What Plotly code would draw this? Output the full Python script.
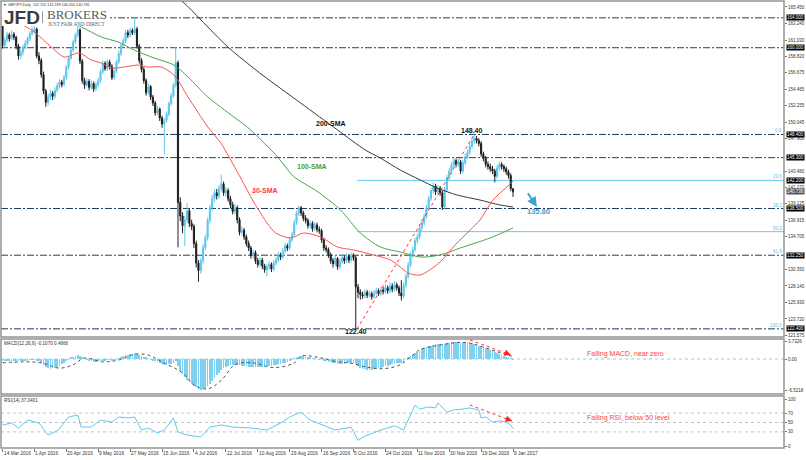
import plotly.graph_objects as go

# ---------------- data ----------------
first_open = 162.9
close = [160.3, 161.0, 161.7, 161.2, 161.8, 161.4, 160.2, 158.9, 159.4, 160.1,
         160.6, 161.2, 161.9, 162.3, 162.5, 158.9, 158.3, 156.4, 154.2, 152.7,
         153.4, 153.9, 153.5, 154.3, 154.9, 155.4, 155.1, 156.0, 157.4, 158.6,
         159.7, 160.8, 161.7, 162.4, 158.2, 155.6, 155.0, 155.5, 154.7, 155.2,
         154.5, 155.0, 155.6, 156.8, 157.9, 157.2, 158.1, 157.5, 156.0, 156.9,
         158.1, 159.2, 160.3, 160.9, 162.0, 161.7, 162.3, 162.0, 162.5, 160.2,
         158.3, 157.1, 155.6, 154.0, 154.8, 153.4, 152.6, 151.3, 151.8, 150.6,
         149.8, 150.3, 151.1, 152.5, 153.6, 155.0, 158.0, 139.3, 137.5, 136.2,
         137.0, 138.2, 136.5, 136.1, 133.8, 131.2, 130.2, 131.5, 133.3, 134.6,
         136.9, 138.6, 139.8, 140.6, 140.2, 141.2, 141.8, 140.6, 140.9, 139.8,
         139.0, 138.1, 138.6, 137.0, 135.3, 135.6, 134.7, 133.8, 133.2, 132.2,
         132.6, 131.5, 131.0, 131.6, 130.8, 130.3, 130.7, 131.0, 130.4, 131.2,
         131.6, 132.3, 132.0, 132.8, 133.5, 133.2, 134.3, 135.0, 136.6, 137.8,
         138.6, 137.9, 137.2, 136.9, 136.2, 136.5, 135.8, 136.3, 135.7, 135.5,
         134.3, 133.2, 133.0, 132.3, 131.5, 131.1, 131.8, 130.7, 131.4, 131.9,
         131.5, 132.1, 131.6, 132.2, 131.9, 128.0, 127.3, 127.0, 126.8, 127.3,
         126.9, 127.1, 126.7, 127.2, 127.5, 127.1, 127.6, 127.4, 127.9, 127.5,
         128.1, 127.7, 128.3, 127.9, 127.2, 126.8, 128.2, 129.4, 130.9, 132.3,
         133.0, 134.2, 134.7, 135.9, 136.6, 137.4, 138.6, 139.8, 140.9, 141.5,
         140.7, 141.2, 140.6, 138.7, 141.0, 142.6, 143.5, 144.3, 144.9, 144.4,
         144.7, 143.5, 144.6, 145.4, 146.0, 146.8, 147.5, 147.9, 147.6, 147.2,
         145.8, 145.2, 144.4, 144.1, 143.8, 143.5, 142.8, 143.9, 144.4, 144.1,
         143.8, 143.4, 142.9, 141.155, 140.736]
high = [163.2, 161.4, 162.1, 162.0, 162.3, 162.1, 161.6, 160.5, 159.8, 160.4,
        161.0, 161.5, 162.2, 162.8, 163.0, 162.7, 159.4, 158.6, 156.8, 154.5,
        153.8, 154.4, 154.2, 154.7, 155.3, 155.8, 155.7, 156.4, 157.7, 158.9,
        160.0, 161.1, 162.0, 162.9, 162.6, 158.5, 156.0, 155.9, 155.8, 155.6,
        155.5, 155.4, 156.0, 157.1, 158.3, 158.2, 158.5, 158.4, 157.8, 157.3,
        158.4, 159.6, 160.6, 161.3, 162.4, 162.4, 162.7, 162.6, 164.0, 162.8,
        160.5, 158.6, 157.4, 155.9, 155.2, 155.0, 153.7, 152.9, 152.2, 152.0,
        150.9, 150.6, 151.5, 152.8, 153.9, 155.3, 160.1, 158.3, 140.0, 138.0,
        137.5, 139.2, 138.5, 137.0, 136.4, 134.2, 131.6, 131.9, 133.7, 135.0,
        137.3, 139.0, 140.3, 141.0, 141.1, 141.6, 143.0, 142.1, 141.4, 141.2,
        140.2, 139.4, 139.1, 138.9, 137.3, 136.1, 135.9, 135.0, 134.2, 133.5,
        133.0, 132.9, 131.9, 132.0, 131.9, 131.1, 131.1, 131.4, 131.3, 131.6,
        132.0, 132.7, 132.6, 133.2, 133.9, 133.8, 134.7, 135.4, 137.0, 138.2,
        138.9, 138.8, 138.2, 137.6, 137.2, 136.9, 136.8, 136.7, 136.6, 136.1,
        135.8, 134.6, 133.6, 133.3, 132.6, 131.9, 132.2, 132.0, 131.8, 132.4,
        132.2, 132.5, 132.4, 132.6, 132.5, 132.2, 128.4, 127.7, 127.4, 127.7,
        127.6, 127.5, 127.4, 127.6, 127.9, 127.8, 128.0, 128.0, 128.4, 128.2,
        128.6, 128.5, 128.8, 128.6, 128.2, 128.9, 128.6, 129.8, 131.3, 132.7,
        133.4, 134.6, 135.1, 136.3, 137.0, 137.8, 139.0, 140.2, 141.3, 142.0,
        141.8, 141.6, 141.5, 140.9, 141.4, 143.0, 143.9, 144.7, 145.3, 145.2,
        145.1, 145.0, 145.0, 145.8, 146.4, 147.2, 147.9, 148.4, 148.2, 147.9,
        147.5, 146.1, 145.5, 144.8, 144.5, 144.2, 143.8, 144.3, 144.8, 144.7,
        144.4, 144.1, 143.7, 143.2, 141.189]
low = [159.9, 160.0, 160.7, 160.8, 161.0, 161.0, 159.8, 158.4, 158.5, 159.0,
       159.8, 160.3, 160.9, 161.6, 161.9, 158.6, 157.8, 156.0, 153.8, 152.1,
       152.3, 153.0, 153.0, 153.2, 154.0, 154.5, 154.7, 154.8, 155.7, 157.1,
       158.3, 159.4, 160.5, 161.4, 157.8, 155.2, 154.5, 154.7, 154.3, 154.4,
       154.1, 154.2, 154.7, 155.3, 156.5, 156.9, 156.9, 157.1, 155.7, 155.7,
       156.6, 157.8, 158.9, 160.0, 160.6, 161.3, 161.4, 161.7, 161.7, 159.9,
       157.9, 156.7, 155.2, 153.6, 153.7, 153.0, 152.2, 150.9, 151.0, 150.2,
       149.3, 145.7, 150.0, 150.8, 152.2, 153.3, 154.7, 133.3, 136.8, 135.2,
       133.5, 136.6, 136.0, 135.6, 133.2, 130.6, 128.7, 129.8, 131.1, 132.9,
       134.2, 136.5, 138.2, 139.3, 139.7, 139.8, 140.8, 140.2, 140.1, 139.4,
       138.5, 137.7, 137.7, 136.5, 134.9, 134.9, 134.3, 133.4, 132.8, 131.8,
       131.8, 131.1, 130.6, 130.7, 130.4, 129.9, 129.4, 130.3, 130.0, 130.1,
       130.9, 131.3, 131.6, 131.7, 132.5, 132.8, 132.9, 134.0, 134.7, 136.3,
       137.5, 137.5, 136.8, 136.5, 135.8, 135.9, 135.4, 135.5, 135.3, 135.1,
       133.9, 132.8, 132.6, 131.9, 131.1, 130.6, 130.8, 130.3, 130.4, 131.1,
       131.1, 131.2, 131.2, 131.3, 131.5, 122.4, 126.5, 126.3, 126.4, 126.5,
       126.5, 126.6, 126.3, 126.4, 126.9, 126.8, 126.8, 127.0, 127.1, 127.1,
       127.2, 127.3, 127.4, 127.5, 126.8, 126.2, 126.5, 127.9, 129.1, 130.6,
       131.9, 132.7, 133.8, 134.4, 135.5, 136.2, 137.1, 138.3, 139.5, 140.5,
       140.3, 140.4, 140.2, 138.3, 138.4, 140.7, 142.3, 143.1, 143.9, 144.0,
       144.1, 143.1, 143.2, 144.3, 145.1, 145.7, 146.5, 147.1, 147.2, 146.8,
       145.4, 144.8, 144.0, 143.7, 143.4, 143.1, 142.0, 142.5, 143.6, 143.7,
       143.4, 143.0, 142.5, 140.8, 140.05]
open_ = [first_open] + close[:-1]
bars = list(range(len(close)))

date_labels = ["14 Mar 2016", "1 Apr 2016", "20 Apr 2016", "9 May 2016", "27 May 2016",
               "15 Jun 2016", "4 Jul 2016", "22 Jul 2016", "10 Aug 2016", "29 Aug 2016",
               "16 Sep 2016", "5 Oct 2016", "24 Oct 2016", "11 Nov 2016", "30 Nov 2016",
               "19 Dec 2016", "9 Jan 2017"]
date_bars = [0, 14, 28, 42, 56, 70, 84, 98, 112, 126, 140, 154, 168, 182, 196, 210, 224]

# regular scale labels (those hidden under the boxed levels are left out)
price_ticks = [165.450, 163.240, 161.030, 158.820, 156.675, 154.465, 152.255, 150.045,
               147.900, 143.480, 141.270, 139.125, 136.915, 134.705,
               130.350, 128.140, 125.930, 123.720, 121.575]
boxed_levels = [164.000, 160.000, 148.400, 145.300, 142.200, 138.500, 132.250, 122.400]
last_price = 140.736

sr_gray = [164.0, 160.0, 145.3, 132.25]
sr_navy = [148.4, 138.5, 122.4]
fib_levels = [148.40, 142.26, 138.47, 135.40, 132.33, 122.40]
fib_names = ["0.0", "23.6", "38.2", "50.0", "61.8", "100.0"]
fib_solid = [False, True, False, True, False, False]
fib_low_bar, fib_low_price = 155.6, 122.4
fib_high_bar, fib_high_price = 207.0, 148.4

sma30_bar = [3, 10.5, 14, 21.4, 27.1, 33.7, 38.9, 43.3, 47.7, 53.4, 59.5, 63.9, 69.6, 75.2,
             81.4, 90.1, 95.8, 98.9, 104.5, 110.2, 116.4, 119.9, 126.4, 132.1, 139.5, 147.0,
             154.0, 162.7, 170.2, 174.5, 178.0, 183.3, 192.0, 198.6, 205.2, 209.5, 215.2,
             221.3, 224.0]
sma30 = [164.0, 162.77, 162.11, 160.10, 158.76, 159.30, 158.36, 157.96, 157.29, 157.42,
         157.69, 157.42, 157.42, 156.35, 153.41, 149.40, 147.26, 145.65, 142.58, 139.37,
         136.42, 135.22, 134.55, 135.22, 134.69, 133.35, 132.95, 132.29, 131.61, 130.67,
         129.87, 129.60, 131.34, 133.62, 135.62, 136.96, 139.63, 141.37, 142.17]
sma100_bar = [20, 34.6, 43.3, 50.7, 57.7, 66.5, 75.2, 81.4, 90.1, 101.5, 108.9, 120.7,
              127.7, 138.0, 148.3, 157.0, 165.8, 174.5, 183.3, 192.0, 200.8, 213.9, 224.0]
sma100 = [164.6, 162.77, 161.44, 160.77, 159.70, 158.63, 157.69, 156.09, 153.41, 150.74,
          149.00, 145.39, 142.8, 140.8, 138.3, 135.22, 133.35, 132.68, 132.01, 132.28,
          133.21, 134.55, 135.89]
sma200_bar = [70, 79.2, 87.1, 98.9, 112.9, 130.8, 147.0, 159.2, 165.8, 174.5, 183.3, 190.7,
              199.5, 209.5, 218.3, 224.0]
sma200 = [168.0, 166.12, 163.71, 160.10, 156.62, 152.61, 149.00, 146.32, 145.25, 143.65,
          142.31, 141.24, 140.30, 139.63, 138.97, 138.70]

macd_hist = [-0.4, -0.3, -0.3, -0.4, -0.3, -0.4, -0.5, -0.5, -0.4, -0.4, -0.3, -0.3, -0.2,
             -0.1, -0.1, -0.3, -0.5,
             -0.8, -1.2, -1.6, -1.9, -2.0, -1.9, -1.8, -1.6, -1.4, -1.1, -0.8, -0.4,
             0.0, 0.3, 0.5, 0.7, 0.8, 0.6, 0.3,
             0.0, -0.2, -0.4, -0.5, -0.6, -0.6, -0.5, -0.4, -0.3, -0.3, -0.2, -0.2, -0.3,
             -0.2, 0.0, 0.2, 0.4, 0.6, 0.8, 0.9, 1.0, 1.1, 1.2, 1.1, 0.9, 0.7, 0.5, 0.3, 0.1,
             -0.1, -0.3, -0.5, -0.7, -0.9, -1.1, -1.2, -1.2, -1.1, -1.0, -0.8, -0.5,
             -1.5, -2.4, -3.2, -3.8, -4.3, -4.7, -5.1, -5.5, -5.9, -6.2, -6.4, -6.3, -6.0,
             -5.6, -5.1, -4.5, -3.9, -3.3, -2.8, -2.3, -1.9, -1.6,
             -1.4, -1.3, -1.3, -1.2, -1.2, -1.3, -1.4, -1.5, -1.5, -1.6, -1.6, -1.6, -1.6,
             -1.7, -1.6, -1.6, -1.6, -1.5, -1.5, -1.4, -1.3, -1.2, -1.1, -1.0, -0.9, -0.8,
             -0.6, -0.4, -0.2,
             0.1, 0.3, 0.5, 0.6, 0.6, 0.5, 0.4, 0.3, 0.2, 0.1, 0.0, -0.1, -0.2,
             -0.4, -0.5, -0.6, -0.7, -0.8, -0.9, -1.0, -1.0, -1.0, -1.0, -0.9, -0.9, -0.9,
             -0.8, -1.1,
             -1.5, -1.8, -2.0, -2.1, -2.2, -2.2, -2.2, -2.1, -2.0, -1.9, -1.8, -1.7, -1.5,
             -1.4, -1.3, -1.1, -1.0, -0.9, -0.8, -0.8, -0.6,
             0.0, 0.3, 0.6, 0.9, 1.2, 1.5, 1.7, 2.0, 2.2, 2.4, 2.6, 2.8, 3.0, 3.1, 3.2, 3.2,
             3.1, 3.2, 3.3, 3.4, 3.5, 3.5, 3.5, 3.5, 3.4, 3.5, 3.5, 3.5, 3.4, 3.3, 3.2, 3.0,
             2.8, 2.6, 2.4, 2.2, 2.0, 1.8, 1.6, 1.4, 1.3, 1.1, 0.9, 0.7, 0.5, 0.3, 0.1, -0.1]
signal_bar = [0, 9, 17, 25, 31, 36, 44, 51, 58, 64, 70, 79, 84, 90, 96, 102, 110, 119, 128,
              131, 138, 146, 153, 160, 167, 174, 180, 183, 192, 201, 205, 217, 224]
signal = [-0.8, -0.6, -0.8, -1.9, -1.2, 0.2, -0.6, -0.2, 1.0, 0.8, -0.6, -2.9, -5.4, -6.2,
          -4.4, -1.2, -0.8, -1.8, -0.8, 0.6, 0.4, -0.5, -0.9, -1.7, -2.0, -1.3, 0.8, 1.9,
          2.9, 3.46, 3.3, 1.5, 0.47]
macd_ticks = [3.7326, 0.0, -6.5218]
macd_tick_text = ["3.7326", "0.00", "-6.5218"]

rsi_bar = [0, 4, 7, 11, 16, 20, 24.5, 29, 33, 34.5, 39, 43, 48, 51, 55, 58, 61, 64, 68, 71,
           75, 77, 81, 87, 91, 96, 101, 109, 116, 122, 126, 131, 135, 140, 146, 153, 156,
           159, 166, 172, 176, 179, 181, 183, 187, 190, 191, 195, 198, 202, 205, 209, 210,
           212, 215, 218, 221, 223, 224]
rsi = [44.7, 48.9, 38.3, 55.3, 48.9, 23.4, 34.0, 61.7, 66.0, 40.4, 40.4, 55.3, 51.0, 61.7,
       59.6, 61.7, 34.0, 38.3, 27.7, 34.0, 59.6, 29.8, 23.4, 19.1, 40.4, 44.7, 40.4, 38.3,
       34.0, 48.9, 61.7, 72.3, 55.0, 45.0, 34.0, 40.0, 12.0, 21.0, 34.0, 43.0, 34.0, 66.0,
       87.0, 78.7, 83.0, 80.9, 91.5, 72.3, 76.6, 78.7, 80.9, 76.6, 59.6, 61.7, 51.0, 53.2,
       51.0, 44.7, 37.04]
rsi_levels = [70, 50, 30]
rsi_ticks = [100, 70, 50, 30, 0]

# ---------------- geometry helpers (paper fractions) ----------------
W, H = 806, 460
def px(x):
    return x / W
def py(y):
    return 1 - y / H

XD = [px(1), px(784)]
XR = [-0.658, 342.9]
D_PRICE = [py(337), py(1)]
D_MACD = [py(394), py(339)]
D_RSI = [py(448), py(396)]

BLUE = "#5bc6ec"
FONT = "Liberation Sans"

fig = go.Figure()

# ---------------- traces ----------------
fig.add_trace(go.Candlestick(
    x=bars, open=open_, high=high, low=low, close=close,
    increasing=dict(line=dict(color=BLUE, width=1), fillcolor=BLUE),
    decreasing=dict(line=dict(color="#1e1e1e", width=1), fillcolor="#1e1e1e"),
    whiskerwidth=0, xaxis="x", yaxis="y", hoverinfo="skip"))
fig.add_trace(go.Scatter(x=sma200_bar, y=sma200, mode="lines",
                         line=dict(color="#3a3a3a", width=1, shape="spline", smoothing=0.8),
                         xaxis="x", yaxis="y", hoverinfo="skip"))
fig.add_trace(go.Scatter(x=sma100_bar, y=sma100, mode="lines",
                         line=dict(color="#4aa64a", width=1, shape="spline", smoothing=0.8),
                         xaxis="x", yaxis="y", hoverinfo="skip"))
fig.add_trace(go.Scatter(x=sma30_bar, y=sma30, mode="lines",
                         line=dict(color="#ff5050", width=1, shape="spline", smoothing=0.8),
                         xaxis="x", yaxis="y", hoverinfo="skip"))
fig.add_trace(go.Scatter(x=[fib_low_bar, fib_high_bar], y=[fib_low_price, fib_high_price],
                         mode="lines", line=dict(color="#ff3030", width=1, dash="dot"),
                         xaxis="x", yaxis="y", hoverinfo="skip"))

fig.add_trace(go.Bar(x=bars, y=macd_hist, marker=dict(color="#7dd0ef", line=dict(width=0)),
                     width=0.32, xaxis="x2", yaxis="y2", hoverinfo="skip"))
fig.add_trace(go.Scatter(x=signal_bar, y=signal, mode="lines",
                         line=dict(color="#555555", width=1, dash="dot", shape="spline"),
                         xaxis="x2", yaxis="y2", hoverinfo="skip"))
fig.add_trace(go.Scatter(x=rsi_bar, y=rsi, mode="lines",
                         line=dict(color="#5ec8ee", width=1),
                         xaxis="x3", yaxis="y3", hoverinfo="skip"))

# ---------------- shapes ----------------
shapes = []
dashdot = "7px,2px,2px,2px"
for lv in sr_gray:
    shapes.append(dict(type="line", xref="paper", yref="y", x0=XD[0], x1=XD[1], y0=lv, y1=lv,
                       line=dict(color="#3c3c3c", width=1, dash=dashdot), layer="below"))
for lv, solid in zip(fib_levels, fib_solid):
    if solid:
        shapes.append(dict(type="line", xref="x", yref="y", x0=fib_low_bar, x1=XR[1],
                           y0=lv, y1=lv, line=dict(color="#62caf0", width=1), layer="below"))
for lv in sr_navy:
    shapes.append(dict(type="line", xref="paper", yref="y", x0=XD[0], x1=XD[1], y0=lv, y1=lv,
                       line=dict(color="#1f3b58", width=1, dash=dashdot), layer="below"))
shapes.append(dict(type="line", xref="paper", yref="y2", x0=XD[0], x1=XD[1], y0=0, y1=0,
                   line=dict(color="#7fd3f0", width=1, dash="dot"), layer="below"))
for lv in rsi_levels:
    shapes.append(dict(type="line", xref="paper", yref="y3", x0=XD[0], x1=XD[1], y0=lv, y1=lv,
                       line=dict(color="#c4c4c4", width=1, dash="dot"), layer="below"))
# red dashed trend arrows on MACD and RSI
shapes.append(dict(type="line", xref="x2", yref="y2", x0=205.1, y0=3.94, x1=223.1, y1=0.83,
                   line=dict(color="#ff3030", width=1, dash="dot")))
shapes.append(dict(type="line", xref="x3", yref="y3", x0=205.1, y0=87.2, x1=223.6, y1=53.2,
                   line=dict(color="#ff3030", width=1, dash="dot")))
# panel frames
for d in (D_PRICE, D_MACD, D_RSI):
    shapes.append(dict(type="rect", xref="paper", yref="paper", x0=XD[0], x1=XD[1],
                       y0=d[0], y1=d[1], line=dict(color="#949494", width=1.5),
                       fillcolor="rgba(0,0,0,0)", layer="above"))
# logo box
shapes.append(dict(type="rect", xref="paper", yref="paper", x0=px(2), x1=px(110),
                   y0=py(26), y1=py(2), line=dict(width=0), fillcolor="white", layer="above"))
shapes.append(dict(type="line", xref="paper", yref="paper", x0=px(42.5), x1=px(42.5),
                   y0=py(23), y1=py(11), line=dict(color="#9a9a9a", width=1), layer="above"))

# ---------------- annotations ----------------
ann = []
def txt(text, x, y, xref, yref, size, color, bold=False, xanchor="center", yanchor="middle",
        family=FONT, **kw):
    if bold:
        text = "<b>" + text + "</b>"
    d = dict(text=text, x=x, y=y, xref=xref, yref=yref, showarrow=False,
             font=dict(size=size, color=color, family=family),
             xanchor=xanchor, yanchor=yanchor, borderpad=0)
    d.update(kw)
    ann.append(d)

# logo and header
txt("JFD", px(3), py(17.5), "paper", "paper", 19, "#3d3d3d", bold=True, xanchor="left")
txt("BROKERS", px(45.5), py(14.5), "paper", "paper", 13, "#5a5a5a", xanchor="left",
    family="Liberation Serif")
txt("JUST FAIR AND DIRECT", px(47), py(24.2), "paper", "paper", 5.2, "#5a5a5a",
    xanchor="left", family="Liberation Serif")
txt("\u25bc GBPJPY,Daily  141.155 141.189 140.050 140.736", px(2), py(4.5), "paper", "paper",
    3.7, "#333333", xanchor="left")

# chart labels
txt("148.40", 206.0, 148.93, "x", "y", 7, "#111111", bold=True)
txt("122.40", 155.1, 122.04, "x", "y", 7, "#111111", bold=True)
txt("200-SMA", 144.1, 149.8, "x", "y", 7, "#111111", bold=True)
txt("100-SMA", 135.8, 144.12, "x", "y", 7, "#3f9e3f", bold=True)
txt("30-SMA", 115.2, 140.9, "x", "y", 7, "#ff3b3b", bold=True)
txt("135.80", 235.2, 138.1, "x", "y", 7.5, "#3aa4d4", bold=True)
ann.append(dict(x=234.5, y=138.7, xref="x", yref="y", ax=230.1, ay=140.74, axref="x",
                ayref="y", text="", showarrow=True, arrowhead=2, arrowsize=1, arrowwidth=2,
                arrowcolor="#3aa4d4"))

# fib labels
for lv, nm in zip(fib_levels, fib_names):
    txt(nm, px(783), lv, "paper", "y", 4.5, "#55c2ee", xanchor="right", yanchor="bottom")

# boxed price labels
for lv in boxed_levels:
    txt("%.3f" % lv, px(785.5), lv, "paper", "y", 4.5, "white", xanchor="left",
        bgcolor="#000000")
txt("%.3f" % last_price, px(785.5), last_price, "paper", "y", 4.5, "white", xanchor="left",
    bgcolor="#555555")

# indicator panels
txt("MACD(12,26,9) -0.1070 0.4666", px(3), py(343), "paper", "paper", 4.6, "#333333",
    xanchor="left")
txt("RSI(14) 37.0401", px(3), py(400.5), "paper", "paper", 4.6, "#333333", xanchor="left")
txt("Falling MACD, near zero", px(586), py(354), "paper", "paper", 7, "#ff4040",
    xanchor="left")
txt("Falling RSI, below 50 level", px(586), py(418), "paper", "paper", 7, "#ff4040",
    xanchor="left")
ann.append(dict(x=223.1, y=0.83, xref="x2", yref="y2", ax=219.5, ay=1.45, axref="x2",
                ayref="y2", text="", showarrow=True, arrowhead=2, arrowsize=1.3,
                arrowwidth=1, arrowcolor="#ff2020"))
ann.append(dict(x=223.6, y=53.2, xref="x3", yref="y3", ax=220.0, ay=59.8, axref="x3",
                ayref="y3", text="", showarrow=True, arrowhead=2, arrowsize=1.3,
                arrowwidth=1, arrowcolor="#ff2020"))

# date labels
for b, lab in zip(date_bars, date_labels):
    txt(lab, b, py(450), "x3", "paper", 4.8, "#333333", xanchor="left", yanchor="top")

# ---------------- layout ----------------
axis_common = dict(showgrid=False, zeroline=False, fixedrange=True)
fig.update_layout(
    width=W, height=H, margin=dict(l=0, r=0, t=0, b=0),
    paper_bgcolor="white", plot_bgcolor="white", showlegend=False,
    font=dict(family=FONT, size=5, color="#333333"),
    xaxis=dict(domain=XD, range=XR, anchor="y", showticklabels=False,
               rangeslider=dict(visible=False), **axis_common),
    xaxis2=dict(domain=XD, range=XR, anchor="y2", showticklabels=False, **axis_common),
    xaxis3=dict(domain=XD, range=XR, anchor="y3", showticklabels=False, ticks="outside",
                tickvals=date_bars, ticklen=3, tickcolor="#777777", **axis_common),
    yaxis=dict(domain=D_PRICE, range=[121.31, 166.25], anchor="x", side="right",
               tickvals=price_ticks, ticktext=["%.3f" % v for v in price_ticks],
               ticks="outside", ticklen=2, tickcolor="#777777",
               tickfont=dict(size=4.5, color="#333333", family=FONT), **axis_common),
    yaxis2=dict(domain=D_MACD, range=[-7.258, 4.148], anchor="x2", side="right",
                tickvals=macd_ticks, ticktext=macd_tick_text, ticks="outside", ticklen=2,
                tickcolor="#777777", tickfont=dict(size=4.5, color="#333333", family=FONT),
                **axis_common),
    yaxis3=dict(domain=D_RSI, range=[-4.26, 106.38], anchor="x3", side="right",
                tickvals=rsi_ticks, ticktext=[str(v) for v in rsi_ticks], ticks="outside",
                ticklen=2, tickcolor="#777777",
                tickfont=dict(size=4.5, color="#333333", family=FONT), **axis_common),
    shapes=shapes, annotations=ann, bargap=0,
)

fig.write_html("out.html")
